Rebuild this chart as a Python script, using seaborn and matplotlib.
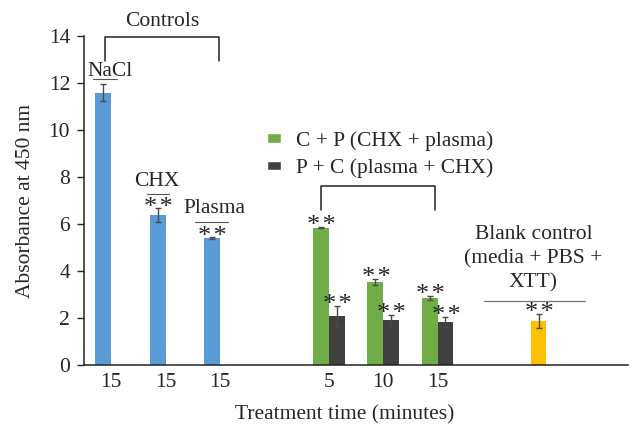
import pandas as pd
import matplotlib
matplotlib.use("Agg")
import matplotlib.pyplot as plt
from matplotlib.patches import Patch
import seaborn as sns

# chart data (slot = position along the x axis, series = left/right bar in a slot)
slots = [0, 1, 2, 4, 5, 6, 4, 5, 6, 8]
series = ["first", "first", "first", "first", "first", "first",
          "second", "second", "second", "first"]
values = [11.58, 6.38, 5.40, 5.85, 3.53, 2.85, 2.07, 1.90, 1.84, 1.88]
errors = [0.36, 0.29, 0.04, 0.04, 0.14, 0.09, 0.44, 0.23, 0.22, 0.31]
groups = ["control", "control", "control", "cp", "cp", "cp", "pc", "pc", "pc", "blank"]
stars = ["", "*\u200a*", "*\u200a*", "*\u200a*", "*\u200a*", "*\u200a*",
         "*\u200a*", "*\u200a*", "*\u200a*", "*\u200a*"]
tick_labels = ["15", "15", "15", "", "5", "10", "15", "", "", ""]
legend_labels = ["C + P (CHX + plasma)", "P + C (plasma + CHX)"]

colors = {"control": "#5B9BD5", "cp": "#70AD47", "pc": "#404040", "blank": "#FFC000"}

df = pd.DataFrame({"slot": slots, "series": series, "value": values,
                   "err": errors, "group": groups, "stars": stars})

sns.set_style("white")
plt.rcParams["font.family"] = ["Liberation Serif", "DejaVu Serif"]
fs = 15.5

fig = plt.figure(figsize=(6.41, 4.40), dpi=100)
ax = fig.add_axes([84 / 641, 75 / 440, 544 / 641, 329 / 440])

sns.barplot(data=df, x="slot", y="value", hue="series", order=list(range(10)),
            hue_order=["first", "second"], dodge=True, width=0.58,
            errorbar=None, legend=False, ax=ax)

# match bars to rows (left to right), recolour and add error bars / stars
bars = sorted(ax.patches, key=lambda p: p.get_x())
rows = df.assign(s=df["series"].map({"first": 0, "second": 1})).sort_values(["slot", "s"])
for bar, (_, r) in zip(bars, rows.iterrows()):
    bar.set_facecolor(colors[r["group"]])
    bar.set_edgecolor("none")
    cx = bar.get_x() + bar.get_width() / 2
    ax.errorbar(cx, r["value"], yerr=r["err"], fmt="none", ecolor="#4a4a4a",
                elinewidth=1, capsize=2.5, capthick=1)
    if r["stars"]:
        ax.annotate(r["stars"], (cx, r["value"] + r["err"]), xytext=(0.5, -7.5),
                    textcoords="offset points", ha="center", va="bottom",
                    fontsize=19)

ax.set_xlim(-0.5, 9.5)
ax.set_ylim(0, 14)
ax.set_yticks(range(0, 15, 2))
ax.set_xticks(range(10))
ax.set_xticklabels(tick_labels)
ax.tick_params(axis="x", length=0, pad=6, labelsize=fs)
ax.tick_params(axis="y", length=5, width=1, direction="out", pad=5, labelsize=fs, left=True)
for side in ["top", "right"]:
    ax.spines[side].set_visible(False)
for side in ["left", "bottom"]:
    ax.spines[side].set_color("#222222")
    ax.spines[side].set_linewidth(1.1)

ax.set_xlabel("Treatment time (minutes)", fontsize=fs)
ax.xaxis.set_label_coords(0.48, -0.122)
ax.set_ylabel("Absorbance at 450 nm", fontsize=fs)
ax.yaxis.set_label_coords(-0.09, 0.5)

# controls bracket and labels
ax.plot([-0.12, -0.12, 1.98, 1.98], [12.94, 13.97, 13.97, 12.94], color="#222222",
        lw=1.1, clip_on=False)
ax.text(0.93, 14.6, "Controls", ha="center", va="center", fontsize=fs, clip_on=False)
ax.text(-0.02, 12.51, "NaCl", ha="center", va="center", fontsize=fs)
ax.plot([-0.33, 0.11], [12.16, 12.16], color="#555555", lw=0.8)
ax.text(0.84, 7.8, "CHX", ha="center", va="center", fontsize=fs)
ax.plot([0.65, 1.07], [7.28, 7.28], color="#555555", lw=0.8)
ax.text(1.89, 6.64, "Plasma", ha="center", va="center", fontsize=fs)
ax.plot([1.54, 2.14], [6.09, 6.09], color="#555555", lw=0.8)

# treatment bracket
ax.plot([3.86, 3.86, 5.96, 5.96], [6.6, 7.62, 7.62, 6.6], color="#222222", lw=1.1)

# blank control label
ax.text(7.76, 4.52, "Blank control\n(media + PBS +\nXTT)", ha="center", va="center",
        fontsize=fs, linespacing=1.32)
ax.plot([6.85, 8.71], [2.72, 2.72], color="#777777", lw=0.9)

handles = [Patch(facecolor=colors["cp"]), Patch(facecolor=colors["pc"])]
ax.legend(handles, legend_labels, loc="center left", bbox_to_anchor=(0.30, 0.64),
          frameon=False, fontsize=fs, handlelength=0.65, handleheight=0.28,
          handletextpad=0.7, labelspacing=0.35)

fig.savefig("out.png", dpi=100)
